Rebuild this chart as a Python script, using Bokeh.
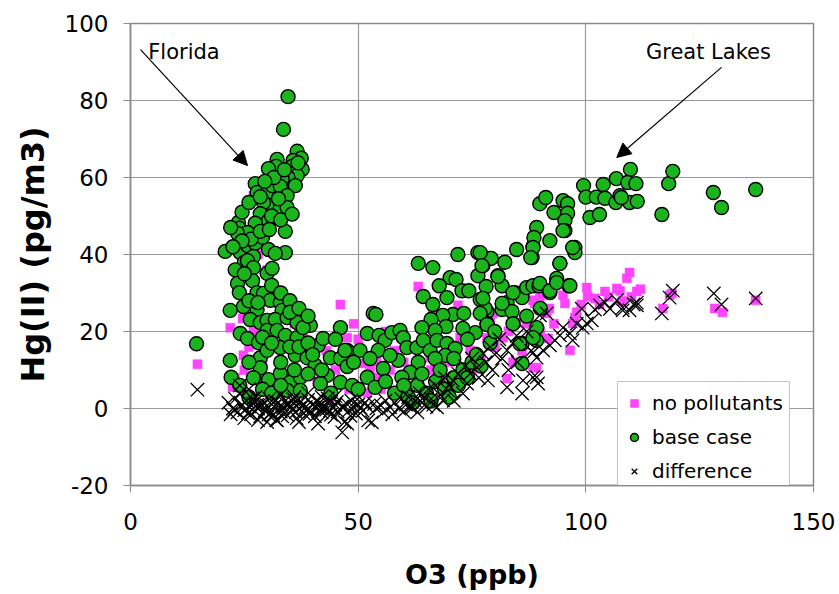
from bokeh.plotting import figure
from bokeh.models import (Range1d, FixedTicker, Legend, LegendItem, Label, Arrow, NormalHead)
from bokeh.embed import file_html
from bokeh.resources import INLINE

# ---------------- data ----------------
# base case (green circles)
base_x = [
    34.6, 33.6, 36.6, 37.5, 35.7, 32.2, 32.0, 30.3, 35.5, 37.7,
    36.6, 34.6, 33.3, 27.4, 27.8, 30.0, 31.1, 32.9, 36.2, 34.4,
    30.7, 32.9, 34.4, 29.2, 28.5, 30.3, 27.4, 23.7, 23.9, 25.7,
    23.5, 34.0, 20.8, 24.1, 25.7, 27.4, 30.3, 34.0, 31.8, 29.0,
    26.5, 28.5, 31.0, 33.0, 35.5, 24.5, 22.5, 25.0, 27.0, 23.0,
    22.0, 24.5, 26.0, 28.5, 31.5, 33.8, 36.8, 29.5, 32.5, 30.5,
    25.7, 27.0, 30.0, 31.1, 23.5, 26.8, 23.9, 27.8, 29.2, 30.7,
    32.9, 21.9, 24.8, 27.8, 33.3, 26.3, 28.5, 30.0, 31.8, 34.4,
    36.6, 39.5, 24.1, 25.7, 28.1, 30.0, 32.2, 34.0, 36.6, 37.9,
    41.2, 42.3, 46.1, 47.6, 43.9, 46.1, 47.6, 21.9, 22.1, 28.5,
    30.0, 32.9, 36.2, 38.8, 40.6, 28.5, 30.3, 32.9, 35.1, 37.3,
    43.2, 41.7, 46.1, 48.7, 52.0, 53.3, 52.0, 50.4, 47.1, 14.5,
    34.4, 37.3,
    25.0, 26.0, 28.0, 31.0, 33.0, 35.0, 35.0, 37.0, 39.0, 29.0,
    31.0, 33.0, 35.0, 37.0, 39.0, 40.0, 26.0, 27.0, 29.0, 31.0,
    33.0, 36.0, 39.0, 42.0, 44.0, 45.0, 49.0, 50.0, 26.0, 24.0,
    63.2, 66.4, 71.9, 76.3, 78.9, 84.8, 88.4, 88.2, 82.2, 77.4,
    76.3, 80.7, 81.6, 78.1, 70.2, 71.5, 67.8, 72.8, 74.3, 69.5,
    64.3, 66.4, 76.8, 84.4, 86.0, 82.7, 81.6, 83.8, 78.3, 70.8,
    73.2, 68.6, 66.0, 78.3, 75.7, 73.0, 69.3, 66.9, 64.0, 53.9,
    54.6, 55.9, 57.4, 59.2, 59.9, 60.7, 62.9, 64.3, 65.8, 67.3,
    69.5, 71.3, 69.1, 66.9, 63.2, 58.8, 55.5, 61.4, 59.6, 54.4,
    57.0, 53.7, 52.6, 86.0, 86.0, 77.9,
    109.8, 106.7, 109.2, 111.0, 103.8, 99.5, 100.0, 102.3, 104.2, 106.6,
    109.6, 111.3, 107.5, 100.9, 103.0, 116.7, 118.2, 119.1, 89.9, 91.2,
    93.0, 95.0, 96.0, 96.0, 95.4, 95.4, 89.2, 88.6, 92.1, 88.4,
    97.6, 97.6, 87.9, 94.3, 79.2, 76.8, 77.2, 80.7, 84.0, 87.0,
    88.4, 89.7, 92.1, 93.6, 96.3, 77.4, 81.6, 76.8, 78.3, 85.5,
    89.2, 128.0, 129.8, 137.3, 107.8,
    58.0, 61.0, 63.0, 65.0, 67.0, 69.0, 71.0, 73.0, 75.0, 56.0,
    62.0, 66.0, 70.0, 72.0, 74.0, 60.0, 64.0, 68.0, 76.0, 79.0,
    80.0, 84.0, 87.0, 90.0, 74.0, 71.0, 77.0,
    89.2, 88.4, 89.9, 92.1, 93.6, 96.5, 94.3, 95.0, 97.1,
]
base_y = [
    81.0, 72.5, 66.8, 65.0, 64.4, 64.7, 62.9, 62.3, 62.9, 62.1,
    60.5, 60.0, 59.7, 58.4, 56.1, 56.1, 57.9, 57.7, 57.9, 55.3,
    52.7, 52.2, 52.2, 53.5, 50.6, 48.8, 48.1, 48.3, 46.8, 45.7,
    45.5, 46.0, 40.8, 40.5, 42.3, 42.9, 41.3, 40.5, 40.3, 44.5,
    44.0, 46.0, 50.0, 49.0, 50.5, 43.5, 42.0, 38.0, 39.5, 36.0,
    47.0, 51.0, 53.5, 55.0, 60.0, 62.0, 63.8, 59.0, 54.5, 46.5,
    38.4, 36.6, 35.1, 36.4, 32.5, 33.2, 30.1, 30.1, 29.9, 28.1,
    27.5, 25.5, 26.5, 25.7, 25.5, 23.1, 22.3, 22.9, 23.1, 23.6,
    22.3, 21.6, 19.5, 18.2, 17.1, 20.3, 20.3, 19.0, 18.4, 21.0,
    16.4, 18.2, 21.0, 15.1, 13.2, 13.0, 10.9, 12.5, 8.1, 13.2,
    15.1, 15.8, 13.8, 13.2, 11.2, 10.6, 7.5, 9.1, 6.8, 8.1,
    8.6, 6.5, 6.8, 6.0, 8.1, 24.7, 19.5, 15.1, 15.1, 16.8,
    4.7, 4.7,
    35.0, 28.0, 27.5, 32.0, 30.0, 28.0, 25.0, 26.0, 24.0, 18.5,
    17.0, 12.0, 16.0, 16.0, 17.0, 14.0, 12.0, 8.0, 5.0, 4.0,
    6.0, 10.0, 9.0, 10.0, 4.0, 18.0, 12.0, 5.0, 3.0, 6.0,
    37.7, 36.6, 40.0, 40.5, 39.0, 41.3, 42.1, 39.2, 38.0, 37.1,
    34.5, 34.5, 31.9, 31.7, 34.0, 33.5, 31.9, 30.6, 30.6, 28.8,
    29.1, 27.0, 28.3, 30.1, 28.8, 27.5, 25.7, 25.2, 25.2, 24.4,
    24.7, 24.2, 23.1, 22.1, 19.7, 20.8, 21.3, 20.3, 21.0, 24.4,
    19.0, 17.7, 19.7, 20.3, 18.4, 15.8, 15.8, 17.7, 15.1, 17.7,
    16.9, 15.6, 13.8, 13.0, 12.0, 12.5, 10.4, 9.4, 8.1, 15.1,
    13.8, 5.5, 13.0, 16.9, 11.7, 26.0,
    62.1, 59.7, 58.7, 58.4, 58.2, 57.9, 54.9, 54.9, 54.6, 53.5,
    53.5, 53.8, 55.3, 49.6, 50.4, 50.4, 58.4, 61.6, 53.2, 54.8,
    50.9, 54.0, 53.2, 50.7, 48.8, 46.2, 47.0, 44.4, 43.6, 41.8,
    41.8, 40.5, 39.2, 37.7, 39.0, 40.5, 37.1, 34.3, 30.1, 31.4,
    31.9, 31.9, 30.1, 33.8, 31.9, 28.6, 27.3, 24.7, 21.8, 16.9,
    17.7, 56.1, 52.2, 56.9, 54.8,
    4.0, 3.0, 6.0, 4.0, 7.0, 5.0, 8.0, 10.0, 12.0, 7.0,
    1.5, 2.0, 3.0, 6.0, 8.0, 6.0, 9.0, 10.0, 14.0, 17.0,
    20.0, 22.0, 24.0, 26.0, 18.0, 13.0, 11.0,
    21.0, 18.4, 32.5, 30.6, 32.7, 31.9, 37.7, 46.2, 41.8,
]

# no pollutants (magenta squares)
nopol_x = [
    14.7, 21.9, 24.6, 24.8, 22.4, 46.1, 47.6, 51.1, 31.1, 32.9,
    30.3, 27.0, 28.0, 63.2, 71.9, 88.8, 84.8, 81.8, 82.7, 88.4,
    78.3, 74.6, 71.9, 66.4, 65.8, 54.2, 52.6, 72.4, 73.9, 79.0,
    79.6, 109.6, 109.0, 111.2, 106.8, 104.2, 100.2, 100.4, 102.0, 95.0,
    95.4, 89.9, 88.4, 91.4, 97.6, 97.1, 96.5, 89.2, 116.9, 118.4,
    91.7, 128.3, 130.0, 137.3, 107.5, 118.9, 84.0, 86.0, 90.0, 93.0,
    98.0, 103.0, 105.0, 108.0, 110.0, 112.0, 99.0, 92.0, 87.0, 83.0,
    80.0, 77.0, 75.0, 70.0, 68.0, 66.0, 62.0, 60.0, 58.0, 56.0,
    57.0, 54.0, 50.0, 49.0, 45.0, 43.0, 40.0, 38.0, 36.0, 34.0,
    32.0, 30.0, 28.0, 27.0, 26.0, 25.0, 23.0, 29.0, 33.0, 37.0,
    41.0, 44.0, 48.0, 52.0, 55.0,
]
nopol_y = [
    11.5, 21.0, 23.4, 13.8, 5.5, 27.0, 18.4, 11.7, 60.0, 54.8,
    47.0, 55.3, 8.0, 31.7, 26.8, 27.3, 22.3, 18.4, 7.8, 10.6,
    18.4, 15.1, 6.5, 25.5, 13.2, 8.1, 10.6, 18.4, 8.1, 22.9,
    24.7, 35.3, 33.8, 30.4, 31.2, 30.4, 31.4, 29.1, 28.6, 29.4,
    27.3, 29.1, 28.1, 24.7, 23.6, 22.1, 15.1, 10.6, 26.0, 29.4,
    18.2, 26.0, 25.0, 28.1, 30.6, 29.9, 12.0, 15.0, 20.0, 22.0,
    25.0, 27.0, 29.0, 28.0, 29.0, 31.0, 27.0, 26.0, 22.0, 20.0,
    16.0, 13.0, 10.0, 12.0, 8.0, 10.0, 6.0, 12.0, 15.0, 20.0,
    10.0, 12.0, 18.0, 22.0, 10.0, 15.0, 12.0, 18.0, 22.0, 26.0,
    30.0, 36.0, 40.0, 20.0, 16.0, 10.0, 8.0, 12.0, 8.0, 5.0,
    7.0, 3.0, 5.0, 4.0, 5.0,
]

# difference (black crosses)
diff_x = [
    14.7, 21.5, 22.5, 23.0, 23.5, 24.0, 24.5, 25.0, 25.5, 26.0,
    26.5, 27.0, 27.5, 28.0, 28.5, 29.0, 29.5, 30.0, 30.5, 31.0,
    31.5, 32.0, 32.5, 33.0, 33.5, 34.0, 34.5, 35.0, 35.5, 36.0,
    36.5, 37.0, 37.5, 38.0, 38.5, 39.0, 39.5, 40.0, 40.5, 41.0,
    41.5, 42.0, 42.5, 43.0, 43.5, 44.0, 44.5, 45.0, 45.5, 46.5,
    47.0, 47.5, 48.0, 48.5, 49.0, 49.5, 50.0, 50.5, 51.0, 51.5,
    24.0, 26.0, 28.0, 30.0, 33.0, 36.0, 39.0, 42.0, 45.0, 41.2,
    32.2, 47.6, 46.5, 22.0, 25.0, 37.0,
    22.8, 24.3, 25.8, 27.3, 28.8, 30.3, 31.8, 33.3, 34.8, 36.3,
    37.8, 39.3, 40.8, 42.3, 43.8, 45.3, 46.8, 48.3, 49.8, 26.8,
    29.8, 32.8, 35.8, 38.8, 41.8, 44.8, 27.8, 31.3, 34.3, 43.3,
    52.0, 53.0, 53.5, 54.0, 55.0, 55.5, 56.0, 57.0, 57.5, 58.0,
    59.0, 59.5, 60.0, 60.5, 61.0, 61.5, 62.0, 62.5, 63.0, 63.5,
    64.0, 64.5, 65.0, 65.5, 66.0, 66.5, 67.0, 67.3, 68.0, 68.6,
    69.0, 69.7, 70.0, 70.8, 71.0, 72.0, 73.0, 73.5, 73.9, 74.6,
    75.0, 76.1, 76.5, 77.4, 78.0, 79.0, 79.5, 80.0, 81.0, 81.6,
    82.7, 82.7, 83.0, 84.0, 84.8, 85.0, 86.0, 86.2, 87.0, 88.0,
    88.4, 88.4, 89.2, 89.2, 89.5, 89.9, 90.6, 91.4, 92.1, 93.2,
    94.3, 95.0, 96.5, 97.1, 98.0, 99.1, 99.3, 100.2, 101.3, 102.0,
    103.1, 104.2, 105.3, 106.8, 108.1, 109.6, 111.2, 116.7, 118.4, 119.1,
    128.1, 129.8, 137.3, 108.1, 111.2, 110.5, 78.5, 52.2,
]
diff_y = [
    4.9, 1.5, 0.0, 2.5, -1.0, 4.0, 1.0, -0.5, 2.0, 0.5,
    -1.5, 1.2, 3.0, 0.0, -2.0, 1.8, -0.5, 0.8, 2.5, -1.0,
    0.5, -3.0, 1.5, -0.8, 0.3, 2.0, -1.8, 0.6, -0.2, 1.3,
    -2.5, 0.0, 1.8, -1.2, 0.4, 2.3, -0.6, 0.9, -2.0, 0.2,
    1.5, -1.0, 0.6, -0.3, 1.8, -1.6, 0.1, 1.0, -0.8, 0.5,
    -3.5, 1.2, -0.5, 2.0, 0.3, -1.3, 1.0, 0.2, -0.6, 1.5,
    6.0, 5.0, -3.0, -3.5, 3.5, 3.0, 4.0, 3.0, 3.2, -3.9,
    -3.1, -3.9, -6.2, -1.5, -2.5, -3.5,
    -0.3, 0.7, -1.2, 1.6, 0.9, -1.6, 1.9, -2.0, 1.1, -0.9,
    0.6, -1.4, 2.0, -0.2, -0.6, 1.7, 0.3, -1.9, 2.4, 2.6,
    -0.2, 0.1, 2.4, -0.4, 0.0, -2.2, 0.9, -1.7, 1.0, 2.6,
    0.5, -3.6, 1.2, 0.0, 0.8, -1.0, 2.0, 0.3, -1.5, 1.5,
    0.0, 2.5, -0.8, 1.0, 3.0, 0.4, 0.3, 2.0, -1.0, 4.0,
    1.5, 3.0, 0.5, 5.0, 2.5, 1.0, 6.0, 0.3, 3.5, 2.1,
    8.0, 4.7, 6.0, 7.3, 2.0, 9.0, 3.9, 11.0, 6.5, 9.1,
    13.0, 10.6, 8.0, 14.3, 12.0, 16.0, 10.0, 14.0, 18.0, 13.0,
    15.1, 5.5, 10.0, 17.0, 18.9, 12.0, 3.9, 7.3, 20.0, 15.0,
    8.1, 14.5, 13.2, 8.1, 6.5, 24.2, 15.1, 24.7, 16.4, 17.7,
    19.0, 21.0, 19.5, 17.7, 22.0, 25.9, 21.0, 22.1, 22.9, 25.7,
    26.8, 27.5, 25.9, 28.1, 25.5, 25.5, 26.8, 24.7, 28.8, 30.6,
    29.9, 27.0, 28.6, 26.2, 27.5, 27.0, 7.3, -3.1,
]

x_ticks = [0, 50, 100, 150]
y_ticks = [-20, 0, 20, 40, 60, 80, 100]
series_labels = ["no pollutants", "base case", "difference"]

FONT = "DejaVu Sans"

p = figure(width=839, height=594, output_backend="svg", toolbar_location=None,
           x_range=Range1d(0, 150), y_range=Range1d(-20, 100),
           min_border_left=130, min_border_right=26, min_border_top=23, min_border_bottom=109)

p.background_fill_color = "white"
p.border_fill_color = "white"
p.outline_line_color = "#8a8a8a"
p.outline_line_width = 1.5

for ax in (p.xaxis[0], p.yaxis[0]):
    ax.axis_line_color = "#8a8a8a"
    ax.axis_line_width = 1.5
    ax.major_tick_line_color = "#8a8a8a"
    ax.major_tick_out = 7
    ax.major_tick_in = 0
    ax.minor_tick_line_color = None
    ax.major_label_text_font = FONT
    ax.major_label_text_font_size = "23px"
    ax.major_label_text_color = "black"
    ax.axis_label_text_font = FONT
    ax.axis_label_text_font_style = "bold"
    ax.axis_label_text_color = "black"

p.xaxis.ticker = FixedTicker(ticks=x_ticks)
p.yaxis.ticker = FixedTicker(ticks=y_ticks)
p.yaxis.major_label_overrides = {t: str(t) for t in y_ticks}
p.xaxis.major_label_overrides = {t: str(t) for t in x_ticks}
p.xaxis.axis_label = "O3 (ppb)"
p.yaxis.axis_label = "Hg(II) (pg/m3)"
p.xaxis.axis_label_text_font_size = "27px"
p.yaxis.axis_label_text_font_size = "32px"
p.xaxis.major_label_standoff = 20
p.yaxis.major_label_standoff = 15
p.xaxis.axis_label_standoff = 26
p.yaxis.axis_label_standoff = 10

p.xgrid.ticker = FixedTicker(ticks=x_ticks)
p.ygrid.ticker = FixedTicker(ticks=y_ticks)
p.xgrid.grid_line_color = "#9a9a9a"
p.ygrid.grid_line_color = "#9a9a9a"
p.xgrid.grid_line_width = 1.2
p.ygrid.grid_line_width = 1.2

r_np = p.scatter(nopol_x, nopol_y, marker="square", size=9,
                 fill_color="#ff44ff", line_color="#ff44ff", line_width=0.5)
r_bc = p.scatter(base_x, base_y, marker="circle", size=14,
                 fill_color="#1cb41c", line_color="black", line_width=1.4)
r_df = p.scatter(diff_x, diff_y, marker="x", size=19,
                 line_color="black", line_width=1.3)

legend = Legend(items=[LegendItem(label=series_labels[0], renderers=[r_np]),
                       LegendItem(label=series_labels[1], renderers=[r_bc]),
                       LegendItem(label=series_labels[2], renderers=[r_df])],
                location=(487, -8))
legend.label_text_font = FONT
legend.label_text_font_size = "20px"
legend.label_text_color = "black"
legend.glyph_height = 30
legend.glyph_width = 20
legend.label_height = 30
legend.label_standoff = 8
legend.spacing = 4
legend.padding = 6
legend.margin = 0
legend.border_line_color = "#8a8a8a"
legend.border_line_width = 1
legend.background_fill_color = "white"
legend.background_fill_alpha = 1.0
p.add_layout(legend)

# annotations
p.add_layout(Label(x=3.9, y=92.7, text="Florida", text_font=FONT, text_font_size="21px",
                   text_baseline="middle", text_color="black"))
p.add_layout(Label(x=113.2, y=92.5, text="Great Lakes", text_font=FONT, text_font_size="21px",
                   text_baseline="middle", text_color="black"))
p.add_layout(Arrow(x_start=2.2, y_start=93.2, x_end=25.7, y_end=63.1, line_color="black", line_width=1.2,
                   end=NormalHead(size=14, fill_color="black", line_color="black")))
p.add_layout(Arrow(x_start=129.8, y_start=88.6, x_end=106.8, y_end=65.2, line_color="black", line_width=1.2,
                   end=NormalHead(size=14, fill_color="black", line_color="black")))

open("out.html", "w").write(file_html(p, INLINE))
